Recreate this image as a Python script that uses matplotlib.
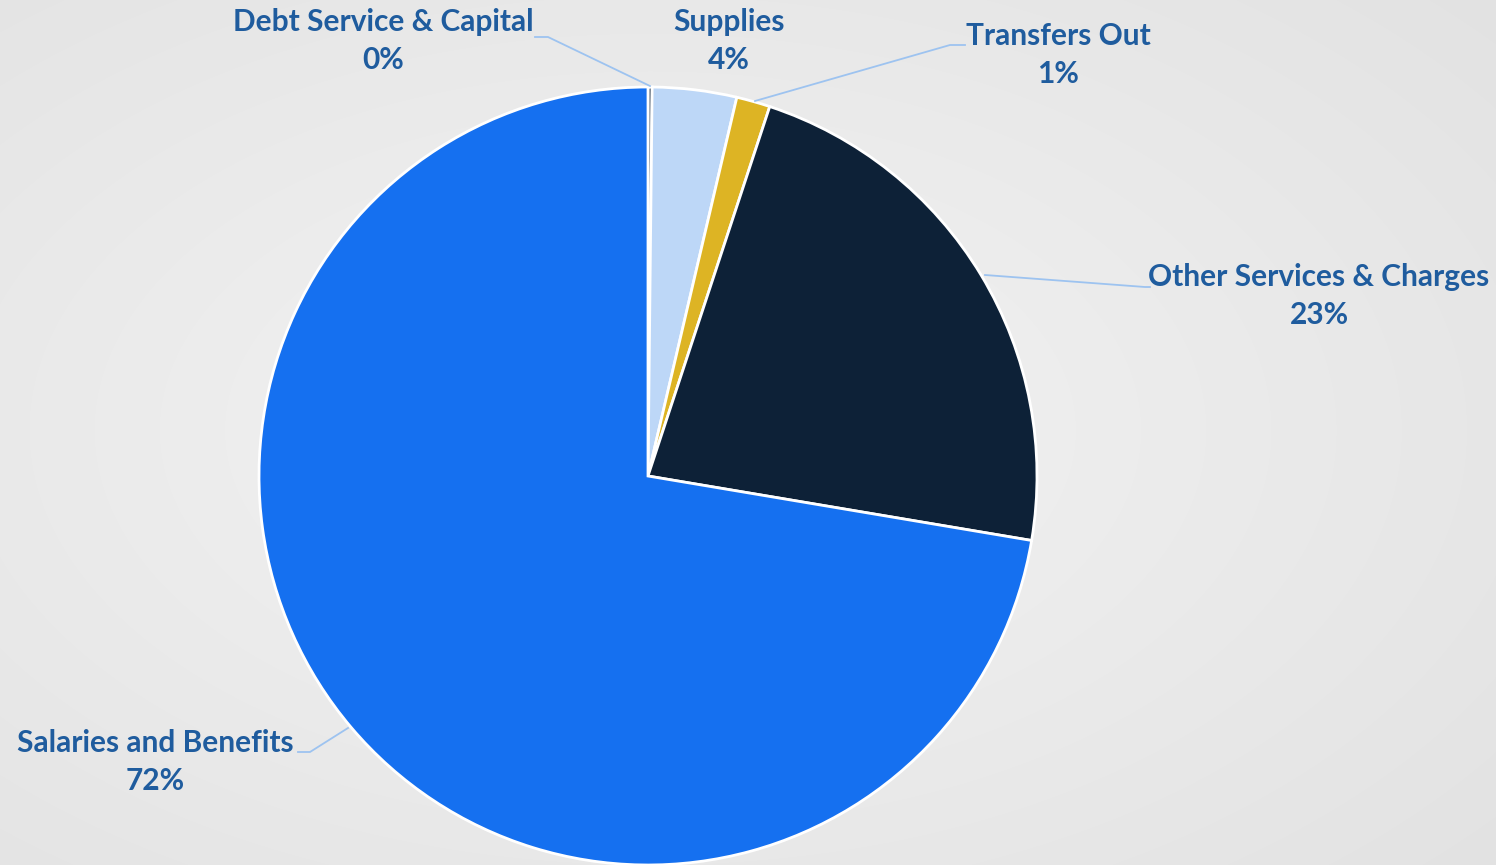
import numpy as np
import matplotlib.pyplot as plt

# slice data, clockwise from 12 o'clock
categories = ['Debt Service & Capital', 'Supplies', 'Transfers Out',
              'Other Services & Charges', 'Salaries and Benefits']
shares = [0.17, 3.5, 1.4, 22.6, 72.4]
pct_labels = ['0%', '4%', '1%', '23%', '72%']
colors = ['#0D2137', '#BDD7F7', '#DDB424', '#0D2137', '#1570F0']

W, H = 1496, 865
fig = plt.figure(figsize=(W / 100, H / 100), dpi=100)
ax = fig.add_axes([0, 0, 1, 1])
ax.set_xlim(0, W)
ax.set_ylim(0, H)
ax.set_aspect('equal')
ax.axis('off')

# soft radial grey background
yy, xx = np.mgrid[0:H, 0:W]
d = np.hypot((xx - 650) / W, (yy - 430) / H)
bg = 0.955 - 0.09 * d
ax.imshow(np.dstack([bg, bg, bg]), extent=(0, W, 0, H), origin='upper', zorder=0)

cx, cy, r = 648, H - 476, 389
ax.pie(shares, colors=colors, startangle=90, counterclock=False,
       center=(cx, cy), radius=r, frame=True,
       wedgeprops=dict(edgecolor='white', linewidth=2))
ax.set_xlim(0, W)
ax.set_ylim(0, H)
ax.axis('off')

txt_color = '#1F5C9E'
line_color = '#9DC3F0'
font = dict(family='Lato', weight='bold', size=21.5, color=txt_color)

# label positions (pixel, from top) and leader paths
label_pos = [(383, 41), (729, 41), (1058, 55), (1319, 296), (155, 762)]
leaders = [
    [(650, 86), (548, 37), (535, 37)],
    None,
    [(755, 101), (950, 45), (965, 45)],
    [(985, 275), (1145, 287), (1150, 287)],
    [(348, 728), (310, 752), (298, 752)],
]

for name, pct, (lx, ly), path in zip(categories, pct_labels, label_pos, leaders):
    ax.text(lx, H - ly, name + '\n' + pct, ha='center', va='center',
            linespacing=1.45, zorder=5, **font)
    if path:
        px = [p[0] for p in path]
        py = [H - p[1] for p in path]
        ax.plot(px, py, color=line_color, lw=1.3, zorder=4)

fig.savefig('out.png', dpi=100)
